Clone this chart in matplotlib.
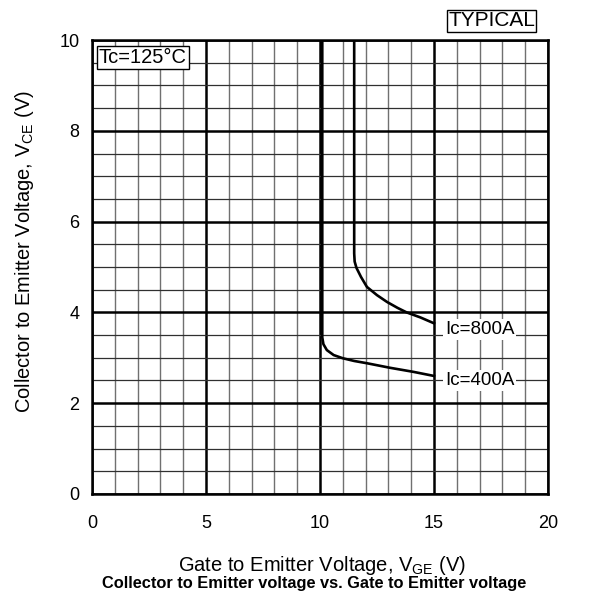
import matplotlib as mpl
mpl.use('Agg')
import matplotlib.pyplot as plt
from matplotlib.ticker import MultipleLocator

plt.rcParams['font.family'] = ['Liberation Sans', 'DejaVu Sans']
plt.rcParams['mathtext.fontset'] = 'custom'
plt.rcParams['mathtext.rm'] = 'Liberation Sans'

#
#--- curve data (Vge, Vce)
#
vge_800 = [11.5, 11.5, 11.52, 11.6, 11.8, 12.06, 12.5, 12.94, 13.4, 13.8, 14.4, 15.0]
vce_800 = [10.0, 5.3, 5.12, 4.98, 4.78, 4.56, 4.38, 4.23, 4.1, 4.0, 3.89, 3.76]

vge_400 = [10.1, 10.1, 10.15, 10.3, 10.6, 11.0, 11.5, 12.06, 13.07, 14.1, 15.0]
vce_400 = [10.0, 3.45, 3.3, 3.17, 3.06, 2.99, 2.93, 2.88, 2.78, 2.69, 2.6]

curve_labels = ['Ic=800A', 'Ic=400A']
label_pos    = [(17.0, 3.63), (17.0, 2.5)]

xticks = [0, 5, 10, 15, 20]
yticks = [0, 2, 4, 6, 8, 10]

fig = plt.figure(figsize=(6.08, 6.0), dpi=100)
ax  = fig.add_axes([0.1513, 0.1767, 0.75, 0.7566])

ax.set_xlim(0, 20)
ax.set_ylim(0, 10)
#
#--- grid: minor thin lines, major thick lines
#
ax.xaxis.set_major_locator(MultipleLocator(5))
ax.yaxis.set_major_locator(MultipleLocator(2))
ax.xaxis.set_minor_locator(MultipleLocator(1))
ax.yaxis.set_minor_locator(MultipleLocator(0.5))
ax.grid(which='minor', axis='x', color='#707070', lw=1.0)
ax.grid(which='minor', axis='y', color='#303030', lw=0.9)
ax.grid(which='major', color='black', lw=1.8)
ax.set_axisbelow(True)
for sp in ax.spines.values():
    sp.set_linewidth(1.8)
ax.tick_params(which='both', length=0, labelsize=13)
ax.tick_params(axis='x', pad=15)
ax.tick_params(axis='y', pad=9)
ax.set_xticks(xticks)
ax.set_yticks(yticks)

#
#--- curves
#
ax.plot(vge_800, vce_800, color='black', lw=1.9, zorder=3)
ax.plot(vge_400, vce_400, color='black', lw=1.9, zorder=3)

for lab, (lx, ly) in zip(curve_labels, label_pos):
    ax.text(lx, ly, lab, ha='center', va='center', fontsize=13.5, zorder=4,
            bbox=dict(facecolor='white', edgecolor='none', pad=1.5))

ax.text(0.3, 9.82, 'Tc=125\u00b0C', ha='left', va='top', fontsize=14.5, zorder=4,
        bbox=dict(facecolor='white', edgecolor='black', lw=1.0, pad=1.5))

fig.text(0.809, 0.965, 'TYPICAL', ha='center', va='center', fontsize=15,
         bbox=dict(facecolor='white', edgecolor='black', lw=1.0, pad=0.8))

fig.text(0.041, 0.58, 'Collector to Emitter Voltage, V$_{\\mathregular{CE}}$ (V)', rotation=90,
         ha='center', va='center', fontsize=14.5)
fig.text(0.530, 0.058, 'Gate to Emitter Voltage, V$_{\\mathregular{GE}}$ (V)', ha='center',
         va='center', fontsize=14.5)
fig.text(0.516, 0.028, 'Collector to Emitter voltage vs. Gate to Emitter voltage', ha='center',
         va='center', fontsize=11.8, fontweight='bold')

plt.savefig('out.png', format='png', dpi=100)
plt.close('all')
